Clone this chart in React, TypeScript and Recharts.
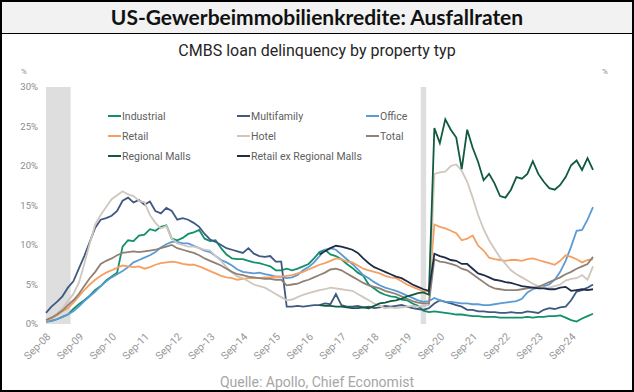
import { LineChart, Line, XAxis, YAxis, ReferenceArea } from 'recharts';

// bimonthly readings, Sep-08 .. May-25 (101 points)
const industrial = [
  0.3, 0.4, 0.6, 0.9, 1.2, 1.9, 2.5, 3.0, 3.6, 4.3,
  4.8, 5.5, 6.0, 6.5, 9.8, 10.6, 10.5, 11.2, 11.3, 12.0,
  11.8, 12.3, 12.5, 10.8, 10.6, 10.9, 11.4, 11.6, 11.9, 10.8,
  10.5, 10.6, 9.6, 8.8, 8.3, 8.2, 8.2, 8.0, 7.8, 7.7,
  7.5, 7.3, 6.8, 6.8, 7.0, 6.8, 7.0, 7.3, 7.6, 8.3,
  9.1, 9.4, 8.8, 8.6, 8.2, 7.6, 7.1, 6.5, 6.1, 5.0,
  4.5, 4.0, 3.7, 3.5, 3.4, 3.1, 3.0, 2.6, 2.3, 1.7,
  1.5, 1.6, 1.5, 1.4, 1.3, 1.2, 1.2, 1.1, 1.0, 1.0,
  0.9, 0.9, 0.9, 0.8, 0.8, 0.8, 0.8, 0.8, 0.9, 0.8,
  0.9, 0.9, 1.0, 1.0, 1.1, 0.8, 0.5, 0.3, 0.7, 1.0,
  1.3,
];
const multifamily = [
  1.4, 2.2, 2.8, 3.5, 4.6, 5.4, 7.0, 8.6, 10.4, 12.2,
  13.2, 13.4, 13.7, 14.3, 15.6, 16.0, 15.4, 15.7, 15.1, 15.5,
  14.3, 14.0, 14.7, 14.3, 13.2, 13.4, 13.2, 12.8, 12.3, 11.4,
  10.7, 10.4, 10.0, 9.6, 9.4, 9.2, 9.0, 9.6, 8.9, 8.6,
  8.5, 8.6, 7.9, 7.9, 2.2, 2.2, 2.3, 2.2, 2.3, 2.4,
  2.4, 2.6, 2.5, 3.8, 2.4, 2.2, 2.2, 2.3, 2.1, 2.2,
  2.0, 2.1, 2.3, 2.2, 2.3, 2.4, 2.2, 2.0, 1.9, 1.8,
  2.0, 2.6, 3.0, 2.8, 2.6, 2.4, 2.2, 1.8, 1.8, 1.6,
  1.6, 1.5, 1.5, 1.4, 1.4, 1.5, 1.4, 1.4, 1.6, 1.5,
  1.4, 1.8, 2.0, 1.9, 2.1, 2.2, 3.0, 4.1, 4.3, 4.6,
  5.0,
];
const office = [
  0.3, 0.4, 0.6, 0.9, 1.2, 1.6, 2.2, 2.9, 3.5, 4.1,
  4.8, 5.4, 5.9, 6.3, 6.7, 7.2, 7.8, 8.1, 8.4, 8.7,
  9.1, 9.7, 10.1, 10.4, 10.4, 10.2, 10.2, 9.9, 9.6, 9.3,
  9.1, 8.6, 8.1, 7.8, 7.4, 6.9, 6.6, 6.5, 6.4, 6.5,
  6.3, 6.2, 6.0, 6.0, 5.8, 5.9, 6.2, 6.8, 7.2, 7.8,
  8.6, 9.4, 9.6, 9.4, 8.8, 8.2, 7.6, 6.9, 6.2, 5.8,
  5.3, 4.9, 4.6, 4.4, 4.2, 3.9, 3.6, 3.3, 3.0, 2.8,
  2.9, 3.3, 3.0, 2.8, 2.8, 2.7, 2.6, 2.6, 2.5, 2.5,
  2.4, 2.4, 2.5, 2.6, 2.7, 2.8, 2.9, 3.2, 4.0, 4.4,
  4.6, 4.8, 5.0, 5.6, 6.6, 8.0, 9.8, 11.8, 11.9, 13.2,
  14.8,
];
const retail = [
  0.4, 0.7, 1.1, 1.6, 2.0, 2.7, 3.5, 4.3, 5.0, 5.6,
  6.1, 6.5, 6.8, 7.1, 7.4, 7.3, 7.2, 7.3, 7.0, 7.2,
  7.5, 7.7, 7.8, 7.9, 7.8, 7.6, 7.5, 7.5, 7.3, 7.0,
  6.7, 6.4, 6.1, 5.9, 5.8, 5.6, 5.7, 5.8, 5.8, 5.8,
  5.9, 5.9, 6.0, 6.0, 6.1, 6.2, 6.4, 6.6, 6.9, 7.2,
  7.5, 7.7, 8.0, 8.3, 8.2, 7.9, 7.8, 7.4, 7.0, 6.8,
  6.6, 6.4, 6.1, 5.9, 5.8, 5.4, 5.0, 4.7, 4.4, 4.1,
  4.2, 12.6, 12.3, 12.1, 11.8, 11.5, 10.6, 10.8, 11.2, 9.9,
  9.3, 8.4, 8.2, 8.1, 8.0, 8.1, 8.1, 8.0, 8.2, 8.3,
  8.1, 7.9, 7.7, 7.5, 8.0, 8.7, 8.5, 8.2, 7.8, 8.1,
  8.2,
];
const hotel = [
  0.5, 0.8, 1.3, 2.0, 2.9, 3.8, 5.2, 7.6, 10.2, 12.6,
  13.8, 14.8, 15.8, 16.3, 16.8, 16.4, 16.2, 15.6, 15.4, 13.8,
  12.8, 12.1, 12.4, 10.8, 10.2, 10.0, 9.8, 9.8, 9.6, 9.4,
  9.3, 8.6, 8.0, 7.2, 6.5, 6.0, 5.8, 5.4, 5.0, 4.8,
  4.6, 4.2, 3.8, 3.4, 3.0, 3.1, 3.4, 3.7, 3.9, 4.1,
  4.3, 4.4, 4.6, 4.5, 4.4, 4.3, 4.2, 3.8, 3.4, 3.0,
  2.6, 2.3, 2.0, 2.1, 2.0, 2.1, 2.2, 2.3, 2.2, 2.3,
  2.4, 19.0, 19.2, 19.3, 20.0, 20.2, 19.4, 18.0, 16.0, 13.8,
  12.0, 10.6, 9.5, 8.4, 7.6, 6.8, 6.3, 5.9, 5.5, 5.1,
  4.8, 4.6, 4.6, 4.8, 5.0, 5.5, 5.7, 5.8, 6.2, 5.6,
  7.3,
];
const total = [
  0.5, 0.8, 1.2, 1.7, 2.4, 3.0, 3.8, 4.8, 5.8, 6.6,
  7.6, 8.0, 8.3, 8.7, 9.0, 9.1, 9.2, 9.1, 9.2, 9.3,
  9.4, 9.6, 9.8, 10.0, 9.6, 9.4, 9.2, 9.0, 8.7, 8.3,
  8.0, 7.7, 7.4, 7.0, 6.6, 6.3, 6.2, 6.0, 5.9, 5.8,
  5.7, 5.7, 5.6, 5.6, 4.9, 5.0, 5.1, 5.4, 5.6, 5.9,
  6.2, 6.5, 6.9, 7.0, 6.8, 6.4, 6.0, 5.6, 5.2, 4.9,
  4.7, 4.5, 4.2, 4.0, 3.8, 3.5, 3.2, 2.9, 2.7, 2.6,
  2.6, 8.2, 7.9, 7.8, 7.6, 7.4, 7.0, 6.8, 6.3, 5.8,
  5.3, 4.8, 4.5, 4.4, 4.3, 4.3, 4.3, 4.4, 4.5, 4.6,
  4.7, 5.0, 5.3, 5.6, 5.9, 6.3, 6.6, 7.0, 7.3, 7.6,
  8.5,
];
// regional malls / retail ex regional malls start in 2017 (index 50)
const regionalMalls = [
  2.4, 2.3, 2.3, 2.2, 2.2, 2.1, 2.0, 2.0, 2.1, 2.0,
  2.3, 2.6, 2.7, 2.9, 3.0, 3.2, 3.5, 3.7, 3.9, 4.0,
  3.7, 24.8, 22.9, 25.9, 24.6, 23.6, 19.6, 24.6, 22.3, 20.5,
  18.2, 19.0, 17.8, 16.2, 16.0, 17.0, 18.6, 18.4, 19.0, 20.6,
  19.0, 18.0, 17.2, 17.0, 17.6, 18.6, 20.1, 20.7, 19.5, 21.0,
  19.5,
];
const retailExMalls = [
  8.8, 9.2, 9.6, 9.9, 9.8, 9.6, 9.4, 9.0, 8.3, 7.7,
  7.2, 6.9, 6.6, 6.3, 6.0, 5.8, 5.4, 5.0, 4.7, 4.4,
  4.2, 8.9, 8.6, 8.4, 8.1, 8.0, 7.6, 7.6, 7.0, 6.4,
  6.2, 5.9, 5.6, 5.5, 5.3, 5.2, 5.0, 4.8, 4.7, 4.6,
  4.5, 4.5, 4.4, 4.4, 4.6, 4.7, 4.2, 4.3, 4.4, 4.3,
  4.4,
];
const LATE_START = 50;

const xTicks = [0, 12, 24, 36, 48, 60, 72, 84, 96, 108, 120, 132, 144, 156, 168, 180, 192];
const xTickLabels = [
  'Sep-08', 'Sep-09', 'Sep-10', 'Sep-11', 'Sep-12', 'Sep-13', 'Sep-14', 'Sep-15', 'Sep-16',
  'Sep-17', 'Sep-18', 'Sep-19', 'Sep-20', 'Sep-21', 'Sep-22', 'Sep-23', 'Sep-24',
];
const yTicks = [0, 5, 10, 15, 20, 25, 30];
// shaded periods, months since Sep-08
const shaded = [[0, 9], [137, 139]];

const series = [
  { key: 'Industrial', values: industrial, color: '#12906a' },
  { key: 'Multifamily', values: multifamily, color: '#3f5a82' },
  { key: 'Office', values: office, color: '#5b9bd5' },
  { key: 'Retail', values: retail, color: '#f5a062' },
  { key: 'Hotel', values: hotel, color: '#cfc7be' },
  { key: 'Total', values: total, color: '#8f8175' },
  { key: 'Regional Malls', values: regionalMalls, color: '#115a3e', offset: LATE_START },
  { key: 'Retail ex Regional Malls', values: retailExMalls, color: '#1f2c47', offset: LATE_START },
];

const data = industrial.map((_, i) => {
  const row: Record<string, number | null> = { m: i * 2 };
  series.forEach((s) => {
    const off = s.offset ?? 0;
    row[s.key] = i >= off ? s.values[i - off] : null;
  });
  return row;
});

const narrow = '"Liberation Sans Narrow", "Arial Narrow", "Roboto", sans-serif';
const tickFont = 'Roboto, "Open Sans", sans-serif';

function LegendBox() {
  return (
    <div style={{ position: 'absolute', left: 108, top: 106, display: 'grid', gridTemplateColumns: '129px 129px 150px', fontFamily: narrow, fontSize: 10.5, color: '#606060' }}>
      {series.map((s) => (
        <div key={s.key} style={{ display: 'flex', alignItems: 'center', height: 20, whiteSpace: 'nowrap' }}>
          <span style={{ display: 'inline-block', width: 13, height: 2, background: s.color, marginRight: 1 }} />
          <span>{s.key}</span>
        </div>
      ))}
    </div>
  );
}

export default function App() {
  return (
    <div style={{ position: 'absolute', left: 0, top: 0, width: 634, height: 392, background: '#fff', overflow: 'hidden' }}>
      <div style={{ position: 'absolute', left: 0, top: 0, width: 634, height: 33, background: '#f2f2f2', borderBottom: '1px solid #000', display: 'flex', alignItems: 'center', justifyContent: 'center', fontFamily: 'Lato, "Open Sans", sans-serif', fontWeight: 700, fontSize: 21, color: '#111' }}>
        US-Gewerbeimmobilienkredite: Ausfallraten
      </div>
      <div style={{ position: 'absolute', left: 0, top: 41, width: 634, textAlign: 'center', fontFamily: narrow, fontSize: 16, color: '#262626' }}>
        CMBS loan delinquency by property typ
      </div>
      <div style={{ position: 'absolute', left: 21, top: 67, fontFamily: tickFont, fontSize: 8, color: '#8c8c8c' }}>%</div>
      <div style={{ position: 'absolute', left: 602, top: 67, fontFamily: tickFont, fontSize: 8, color: '#8c8c8c' }}>%</div>

      <div style={{ position: 'absolute', left: 0, top: 0 }}>
        <LineChart width={634} height={392} data={data} margin={{ top: 87, right: 5, bottom: 18, left: 6 }}>
          {shaded.map(([a, b]) => (
            <ReferenceArea key={a} yAxisId="l" x1={a} x2={b} y1={0} y2={30} fill="#dedede" fillOpacity={1} stroke="none" />
          ))}
          <XAxis
            dataKey="m"
            type="number"
            domain={[0, 200]}
            ticks={xTicks}
            interval={0}
            tickFormatter={(v) => xTickLabels[xTicks.indexOf(v)] ?? ''}
            angle={-45}
            textAnchor="end"
            height={50}
            axisLine={false}
            tickLine={false}
            tickSize={0}
            tickMargin={8}
            tick={{ fill: '#979797', fontSize: 10.5, fontFamily: tickFont }}
          />
          <YAxis yAxisId="l" domain={[0, 30]} ticks={yTicks} width={40} axisLine={false} tickLine={false} tickSize={0} tickMargin={8}
            tickFormatter={(v) => `${v}%`} tick={{ fill: '#8c8c8c', fontSize: 9.5, fontFamily: tickFont }} />
          <YAxis yAxisId="r" orientation="right" domain={[0, 30]} ticks={yTicks} width={36} axisLine={false} tickLine={false} tickSize={0} tickMargin={10}
            tickFormatter={(v) => `${v}%`} tick={{ fill: '#8c8c8c', fontSize: 9.5, fontFamily: tickFont, textAnchor: 'start' }} />
          {series.map((s) => (
            <Line key={s.key} yAxisId="l" type="linear" dataKey={s.key} stroke={s.color} strokeWidth={1.8} dot={false} isAnimationActive={false} />
          ))}
        </LineChart>
      </div>

      <LegendBox />
      <div style={{ position: 'absolute', left: 0, top: 374, width: 634, textAlign: 'center', fontFamily: narrow, fontSize: 14, color: '#a6a6a6' }}>
        Quelle: Apollo, Chief Economist
      </div>
      <div style={{ position: 'absolute', left: 0, top: 0, width: 634, height: 392, boxSizing: 'border-box', border: '2px solid #000', pointerEvents: 'none' }} />
    </div>
  );
}
